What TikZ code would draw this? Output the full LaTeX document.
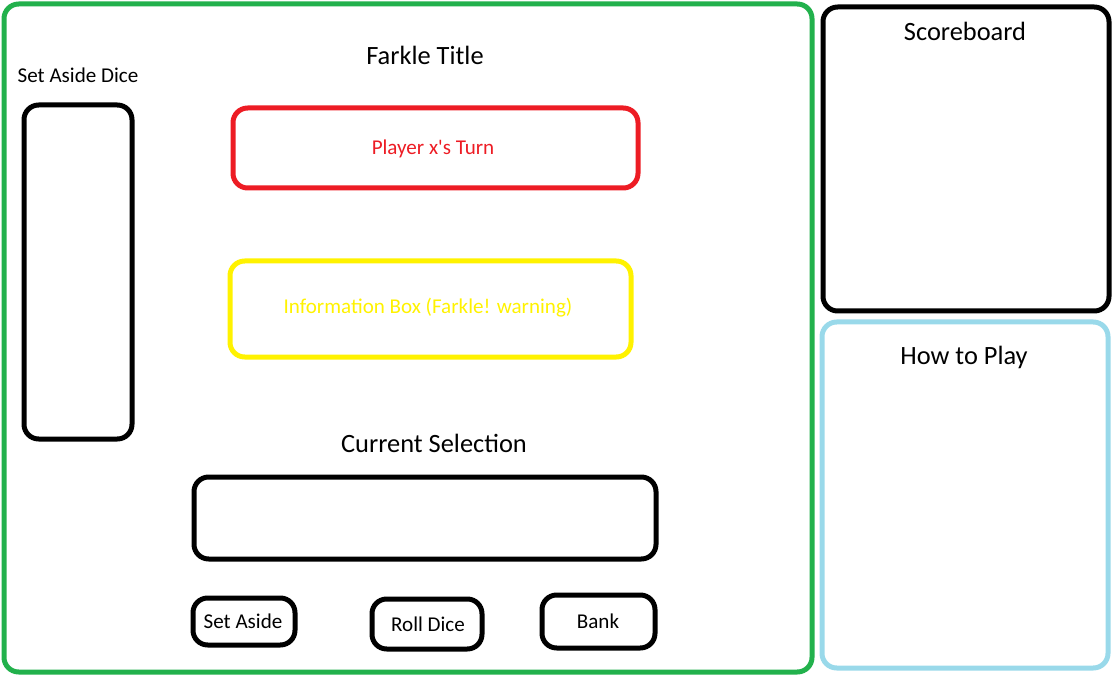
\documentclass[tikz,border=0pt]{standalone}
\usepackage{fontspec}
\setmainfont{Carlito}[Ligatures=TeXOff]
\definecolor{pgreen}{RGB}{34,177,76}
\definecolor{pred}{RGB}{237,28,36}
\definecolor{pyellow}{RGB}{255,242,0}
\definecolor{pblue}{RGB}{153,217,234}
\begin{document}
\begin{tikzpicture}[x=0.75pt,y=-0.75pt,
  panel/.style={draw,line width=3.75pt,rounded corners=11pt,rectangle,inner sep=0pt},
  bigtxt/.style={font=\fontsize{19.8}{24}\selectfont,anchor=base,inner sep=0pt},
  smalltxt/.style={font=\fontsize{15.8}{19}\selectfont,anchor=base,inner sep=0pt}]
\useasboundingbox (0,0) rectangle (1115,688);
% panels
\node[panel,draw=pgreen,minimum width=808*0.75pt,minimum height=668*0.75pt] (main) at (408,338) {};
\node[panel,draw=black,minimum width=286*0.75pt,minimum height=304*0.75pt] (score) at (966,159) {};
\node[panel,draw=pblue,minimum width=286*0.75pt,minimum height=346*0.75pt] (howto) at (965,495) {};
\node[panel,draw=black,minimum width=108*0.75pt,minimum height=334*0.75pt] (dice) at (78,272) {};
\node[panel,draw=pred,minimum width=405*0.75pt,minimum height=80*0.75pt] (turn) at (435.5,148) {};
\node[panel,draw=pyellow,minimum width=401*0.75pt,minimum height=96*0.75pt] (info) at (430.5,309) {};
\node[panel,draw=black,minimum width=462*0.75pt,minimum height=82*0.75pt] (cur) at (425,518) {};
\node[panel,draw=black,minimum width=102*0.75pt,minimum height=47*0.75pt] (bset) at (244,621.5) {};
\node[panel,draw=black,minimum width=110*0.75pt,minimum height=50*0.75pt] (broll) at (427,624) {};
\node[panel,draw=black,minimum width=113*0.75pt,minimum height=53*0.75pt] (bbank) at (598.5,621.5) {};
% labels
\node[bigtxt] (ltitle) at (425,65) {Farkle Title};
\node[smalltxt] (ldice) at (78,83) {Set Aside Dice};
\node[bigtxt] (lscore) at (965,41) {Scoreboard};
\node[bigtxt] (lhow) at (964,364) {How to Play};
\node[bigtxt] (lcur) at (434,452) {Current Selection};
\node[smalltxt,text=pred] (lturn) at (433,155) {Player x's Turn};
\node[smalltxt,text=pyellow] (linfo) at (428,314) {Information Box (Farkle! warning)};
\node[smalltxt] (lbset) at (243,628.5) {Set Aside};
\node[smalltxt] (lbroll) at (428,631.5) {Roll Dice};
\node[smalltxt] (lbbank) at (598,628.5) {Bank};
\end{tikzpicture}
\end{document}
